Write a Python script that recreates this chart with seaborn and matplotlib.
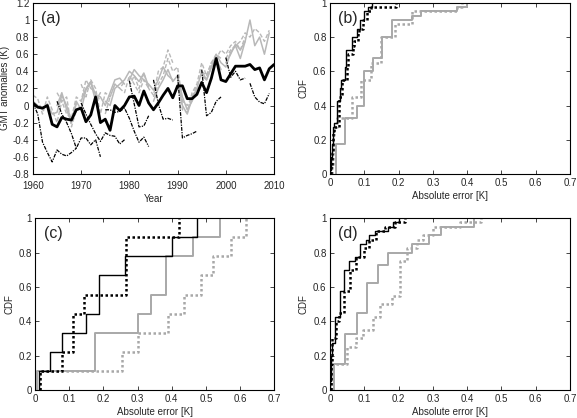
import numpy as np
import seaborn as sns
import matplotlib.pyplot as plt
from matplotlib.ticker import FuncFormatter

# ---- panel (a): global mean temperature anomalies ----
years = list(range(1960, 2011))
obs_gmt = [0.03, -0.02, -0.03, 0.0, -0.22, -0.25, -0.14, -0.16, -0.17, -0.05,
           -0.03, -0.19, -0.11, 0.10, -0.20, -0.16, -0.29, 0.0, -0.06, 0.0,
           0.10, 0.11, 0.0, 0.17, 0.03, -0.05, 0.03, 0.12, 0.20, 0.09,
           0.23, 0.23, 0.08, 0.08, 0.13, 0.27, 0.15, 0.32, 0.55, 0.30,
           0.28, 0.37, 0.46, 0.46, 0.46, 0.48, 0.42, 0.44, 0.30, 0.43, 0.48]

# uninitialised-style hindcasts (black dash-dot), one per start year
fc_starts = [1960, 1965, 1970, 1975, 1980, 1985, 1990, 1995, 2000, 2005]
fc_values = [
    [0.03, -0.10, -0.43, -0.55, -0.66, -0.52, -0.57, -0.59, -0.55, -0.50],
    [0.05, -0.10, -0.20, -0.33, -0.50, -0.38, -0.38, -0.46, -0.40, -0.60],
    [0.03, -0.10, -0.22, -0.33, -0.42, -0.32, -0.35, -0.36, -0.45, -0.40],
    [-0.05, -0.05, -0.08, -0.07, -0.03, -0.15, -0.30, -0.43, -0.37, -0.48],
    [0.29, 0.02, -0.25, -0.24, -0.12],
    [0.30, 0.02, -0.16, -0.15, -0.17],
    [0.36, -0.38, -0.35, -0.33, -0.30],
    [0.42, -0.12, -0.08, 0.05, 0.10],
    [0.56, 0.33, 0.40, 0.30, 0.32],
    [0.26, 0.10, 0.04, 0.02, 0.14],
]

# initialised hindcasts (grey), solid and dashed members
gray_starts = [1960, 1965, 1970, 1975, 1980, 1985, 1990, 1995, 2000]
gray_solid = [
    [0.05, 0.0, -0.05, 0.02, -0.10, -0.08, 0.12, 0.0, -0.18, 0.02],
    [0.0, 0.15, -0.05, -0.20, 0.05, -0.05, 0.18, 0.27, 0.05, 0.15],
    [0.05, 0.20, 0.28, 0.12, 0.10, 0.0, 0.15, 0.30, 0.32, 0.25],
    [0.05, 0.0, 0.20, 0.25, 0.30, 0.40, 0.35, 0.28, 0.38, 0.22],
    [0.30, 0.42, 0.35, 0.30, 0.25, 0.18, 0.30, 0.45, 0.35, 0.30],
    [0.05, 0.20, 0.30, 0.42, 0.28, 0.35, 0.10, -0.05, 0.05, 0.20],
    [0.30, 0.0, -0.10, 0.08, 0.20, 0.40, 0.30, 0.45, 0.55, 0.42],
    [0.35, 0.30, 0.45, 0.60, 0.50, 0.45, 0.62, 0.70, 0.55, 0.75],
    [0.50, 0.60, 0.72, 0.65, 0.75, 1.00, 0.70, 0.80, 0.60, 0.85],
]
gray_dashed = [
    [0.12, 0.08, -0.10, 0.10, -0.05, -0.20, 0.05, 0.10, -0.25, -0.05],
    [0.15, 0.05, -0.10, -0.15, 0.10, 0.05, 0.30, 0.20, 0.15, 0.05],
    [0.25, 0.10, 0.30, 0.20, -0.10, 0.15, 0.10, 0.25, 0.20, 0.28],
    [-0.10, 0.10, 0.25, 0.20, 0.15, 0.35, 0.25, 0.15, 0.30, 0.20],
    [0.22, 0.35, 0.20, 0.38, 0.20, 0.12, 0.40, 0.45, 0.65, 0.50],
    [0.10, 0.25, 0.35, 0.55, 0.40, 0.45, 0.05, 0.0, 0.10, 0.25],
    [0.35, -0.05, -0.08, 0.15, 0.25, 0.50, 0.35, 0.50, 0.60, 0.55],
    [0.40, 0.35, 0.50, 0.55, 0.65, 0.60, 0.70, 0.75, 0.65, 0.80],
    [0.55, 0.65, 0.70, 0.75, 0.85, 0.80, 0.90, 0.85, 0.75, 0.88],
]

# ---- panels (b)-(d): absolute errors, 4 experiments each ----
err_b = {
    'black_solid': [0.001, 0.002, 0.003, 0.004, 0.005, 0.006, 0.007, 0.008, 0.009, 0.01, 0.01, 0.011,
                    0.02, 0.02, 0.02, 0.021, 0.021, 0.03, 0.03, 0.03, 0.031, 0.031,
                    0.045, 0.045, 0.045, 0.046, 0.046, 0.046, 0.047, 0.063, 0.063, 0.064,
                    0.078, 0.078, 0.088, 0.088, 0.1, 0.1, 0.11, 0.122],
    'black_dot': [0.003, 0.004, 0.005, 0.006, 0.007, 0.008, 0.008, 0.009, 0.01, 0.01, 0.011,
                  0.025, 0.025, 0.025, 0.026, 0.026, 0.026, 0.027, 0.035, 0.035, 0.036, 0.036,
                  0.05, 0.05, 0.05, 0.051, 0.051, 0.052, 0.068, 0.068, 0.069,
                  0.082, 0.082, 0.083, 0.095, 0.095, 0.108, 0.108, 0.118, 0.192],
    'gray_solid': [0.018] * 7 + [0.045] * 6 + [0.078] * 3 + [0.1] * 8 + [0.125] * 3
                  + [0.152] * 5 + [0.18] * 4 + [0.24, 0.265, 0.37, 0.4],
    'gray_dot': [0.006, 0.007, 0.008, 0.008, 0.009, 0.009, 0.01, 0.01, 0.01, 0.011, 0.011,
                 0.02, 0.02] + [0.065] * 5 + [0.09] * 4 + [0.12] * 4 + [0.15] * 6
                + [0.19] * 3 + [0.24] * 3 + [0.37, 0.385],
}
err_c = {
    'black_solid': [0.01, 0.043, 0.079, 0.15, 0.187, 0.187, 0.262, 0.401, 0.474],
    'black_dot': [0.015, 0.08, 0.11, 0.11, 0.143, 0.265, 0.265, 0.265, 0.42],
    'gray_solid': [0.005, 0.176, 0.176, 0.30, 0.34, 0.382, 0.382, 0.462, 0.542],
    'gray_dot': [0.013, 0.254, 0.30, 0.388, 0.437, 0.485, 0.522, 0.573, 0.618],
}
err_d = {
    'black_solid': [0.001, 0.001, 0.002, 0.002, 0.003, 0.003, 0.004, 0.004, 0.005, 0.005, 0.006]
                   + [0.015] * 6 + [0.03] * 6 + [0.042] * 5 + [0.056] * 2
                   + [0.072, 0.088, 0.088, 0.088, 0.105, 0.115, 0.13, 0.168, 0.185, 0.2],
    'black_dot': [0.002, 0.002, 0.003, 0.003, 0.004, 0.004, 0.005, 0.005, 0.006, 0.006, 0.007, 0.007]
                 + [0.018] * 4 + [0.025] * 2 + [0.04] * 5 + [0.058] * 5 + [0.075] * 3
                 + [0.1, 0.1, 0.115, 0.115, 0.135, 0.135, 0.16, 0.19, 0.22],
    'gray_solid': [0.012] * 6 + [0.045] * 7 + [0.078] * 5 + [0.108] * 7 + [0.14] * 4
                  + [0.168] * 3 + [0.24] * 2 + [0.29] * 2 + [0.325] * 2 + [0.42] * 2,
    'gray_dot': [0.005] * 6 + [0.05] * 4 + [0.075] * 2 + [0.095] * 2 + [0.125] * 3 + [0.145] * 3
                + [0.18] * 2 + [0.205] * 8 + [0.225] * 3 + [0.255] * 2 + [0.27] + [0.3] * 2 + [0.38, 0.44],
}

sns.set_style('ticks')
plt.rcParams['font.family'] = ['Liberation Sans', 'DejaVu Sans']
plt.rcParams.update({
    'xtick.direction': 'in', 'ytick.direction': 'in',
    'xtick.top': True, 'ytick.right': True,
    'xtick.major.size': 3, 'ytick.major.size': 3,
    'xtick.major.width': 0.6, 'ytick.major.width': 0.6,
    'axes.linewidth': 0.8, 'axes.edgecolor': 'black',
    'xtick.labelsize': 7, 'ytick.labelsize': 7, 'axes.labelsize': 7,
    'xtick.major.pad': 3, 'ytick.major.pad': 2.5,
})

fig = plt.figure(figsize=(5.77, 4.18), dpi=100)
ax_a = fig.add_axes([0.057, 0.584, 0.418, 0.409])
ax_b = fig.add_axes([0.572, 0.584, 0.416, 0.409])
ax_c = fig.add_axes([0.061, 0.067, 0.414, 0.411])
ax_d = fig.add_axes([0.572, 0.067, 0.416, 0.411])

fmt = FuncFormatter(lambda v, p: f'{v:g}' if abs(v) > 1e-9 else '0')
grey = '#b8b8b8'

# panel (a)
for start, vals in zip(gray_starts, gray_solid):
    sns.lineplot(x=years[start - 1960:start - 1960 + len(vals)], y=vals, ax=ax_a,
                 color=grey, lw=1.1)
for start, vals in zip(gray_starts, gray_dashed):
    sns.lineplot(x=years[start - 1960:start - 1960 + len(vals)], y=vals, ax=ax_a,
                 color=grey, lw=1.0, linestyle=(0, (3, 1.5)))
for start, vals in zip(fc_starts, fc_values):
    sns.lineplot(x=years[start - 1960:start - 1960 + len(vals)], y=vals, ax=ax_a,
                 color='black', lw=0.9, linestyle=(0, (3, 1, 1, 1)))
sns.lineplot(x=years, y=obs_gmt, ax=ax_a, color='black', lw=2.0)
ax_a.set_xlim(1960, 2010)
ax_a.set_ylim(-0.8, 1.2)
ax_a.set_xticks(range(1960, 2011, 10))
ax_a.set_yticks(np.arange(-0.8, 1.21, 0.2))
ax_a.yaxis.set_major_formatter(fmt)
ax_a.tick_params(axis='x', pad=5)
ax_a.set_xlabel('Year', labelpad=2)
ax_a.set_ylabel('GMT anomalies (K)', labelpad=2)

# panels (b)-(d)
styles = {
    'gray_solid': dict(color='#a8a8a8', lw=1.4, linestyle='-'),
    'gray_dot': dict(color='#a8a8a8', lw=1.8, linestyle=(0, (1, 1))),
    'black_solid': dict(color='black', lw=1.0, linestyle='-'),
    'black_dot': dict(color='black', lw=1.8, linestyle=(0, (1, 1))),
}
for ax, errs in [(ax_b, err_b), (ax_c, err_c), (ax_d, err_d)]:
    for key in ['gray_solid', 'gray_dot', 'black_dot', 'black_solid']:
        sns.ecdfplot(x=errs[key], ax=ax, **styles[key])
    ax.set_xlim(0, 0.7)
    ax.set_ylim(0, 1)
    ax.set_xticks(np.arange(0, 0.71, 0.1))
    ax.set_yticks(np.arange(0, 1.01, 0.2))
    ax.xaxis.set_major_formatter(fmt)
    ax.yaxis.set_major_formatter(fmt)
    ax.set_xlabel('Absolute error [K]', labelpad=2)
    ax.set_ylabel('CDF', labelpad=3)

for ax, lab in [(ax_a, '(a)'), (ax_b, '(b)'), (ax_c, '(c)'), (ax_d, '(d)')]:
    ax.text(0.035, 0.955, lab, transform=ax.transAxes, fontsize=11.5, va='top', ha='left')
    for s in ax.spines.values():
        s.set_visible(True)

fig.savefig('out.png', dpi=100)
